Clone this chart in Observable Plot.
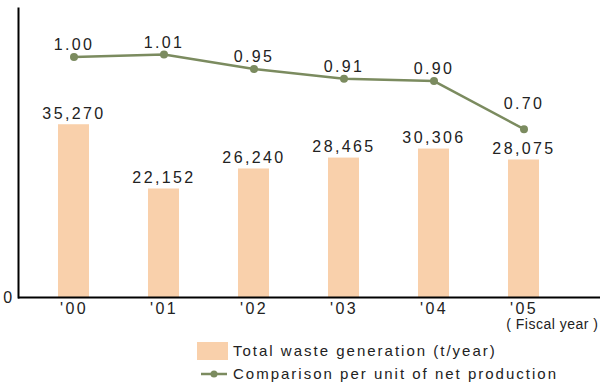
<!DOCTYPE html>
<html>
<head>
<meta charset="utf-8">
<script src="https://cdn.jsdelivr.net/npm/d3@7"></script>
<script src="https://cdn.jsdelivr.net/npm/@observablehq/plot@0.6"></script>
<style>
  body { margin: 0; background: #fff; font-family: "Liberation Sans", Arial, sans-serif; color: #222; }
  #chart svg text { letter-spacing: 2.4px; }
  .legend { margin-left: 197px; margin-top: 2px; font-size: 15px; letter-spacing: 2px; }
  .legend .row { display: flex; align-items: center; height: 23px; }
  .legend .sw { width: 31px; height: 18px; margin-right: 5px; flex: none; }
  .legend svg { margin-right: 5px; flex: none; }
</style>
</head>
<body>
<div id="chart"></div>
<div class="legend">
  <div class="row"><div class="sw" id="barSwatch"></div><span>Total waste generation (t/year)</span></div>
  <div class="row"><svg width="31" height="10" id="lineSwatch"></svg><span>Comparison per unit of net production</span></div>
</div>
<script>
// Fiscal years on the x axis
const years = ["'00", "'01", "'02", "'03", "'04", "'05"];
// Total waste generation, tonnes per year
const waste = [35270, 22152, 26240, 28465, 30306, 28075];
// Comparison per unit of net production (FY2000 = 1.00)
const ratio = [1.00, 1.01, 0.95, 0.91, 0.90, 0.70];

const BAR = "#f9d0ab";
const LINE = "#7b8b5f";
const INK = "#222";
// The ratio series shares the vertical axis: 1.00 is drawn at this many tonnes
const RATIO_UNIT = 49100;

const rows = years.map((year, i) => ({year, waste: waste[i], ratio: ratio[i], last: i === years.length - 1}));
const fmtWaste = d3.format(",");
const fmtRatio = d3.format(".2f");

const chart = Plot.plot({
  width: 601,
  height: 337,
  marginTop: 8,
  marginLeft: 18,
  marginRight: 1,
  marginBottom: 40,
  style: {fontFamily: "'Liberation Sans', Arial, sans-serif", fontSize: "16px", color: INK, background: "#fff"},
  x: {type: "band", domain: years, range: [27.3, 569.7], paddingInner: 0.657, paddingOuter: 0.3285, label: null},
  y: {domain: [0, 59000], label: null},
  marks: [
    Plot.barY(rows, {x: "year", y: "waste", fill: BAR}),
    Plot.text(rows, {x: "year", y: "waste", text: d => fmtWaste(d.waste), dy: -11, fontSize: 16, fill: INK}),
    Plot.lineY(rows, {x: "year", y: d => d.ratio * RATIO_UNIT, stroke: LINE, strokeWidth: 2.5}),
    Plot.dot(rows, {x: "year", y: d => d.ratio * RATIO_UNIT, r: 4, fill: LINE}),
    Plot.text(rows.filter(d => !d.last), {x: "year", y: d => d.ratio * RATIO_UNIT, text: d => fmtRatio(d.ratio), dy: -12, fontSize: 16, fill: INK}),
    Plot.text(rows.filter(d => d.last), {x: "year", y: d => d.ratio * RATIO_UNIT, text: d => fmtRatio(d.ratio), dy: -25, fontSize: 16, fill: INK}),
    Plot.ruleY([0], {stroke: "#000", strokeWidth: 2}),
    Plot.frame({anchor: "left", stroke: "#000", strokeWidth: 2}),
    Plot.axisX({tickSize: 0, tickPadding: 5, fontSize: 16, fill: INK}),
    Plot.axisY({ticks: [0], tickSize: 0, tickPadding: 4, fontSize: 16, fill: INK}),
    Plot.text(["( Fiscal year )"], {frameAnchor: "bottom-right", dx: -2, dy: 31, textAnchor: "end", fontSize: 14, fill: INK})
  ]
});

d3.select(chart).selectAll("text")
  .filter(function () { return this.textContent.includes("Fiscal"); })
  .style("letter-spacing", "0.5px");

document.getElementById("chart").appendChild(chart);

// Legend swatches
document.getElementById("barSwatch").style.background = BAR;
const ls = d3.select("#lineSwatch");
ls.append("line").attr("x1", 4).attr("x2", 30).attr("y1", 5).attr("y2", 5).attr("stroke", LINE).attr("stroke-width", 2.5);
ls.append("circle").attr("cx", 17).attr("cy", 5).attr("r", 3.5).attr("fill", LINE);
</script>
</body>
</html>
